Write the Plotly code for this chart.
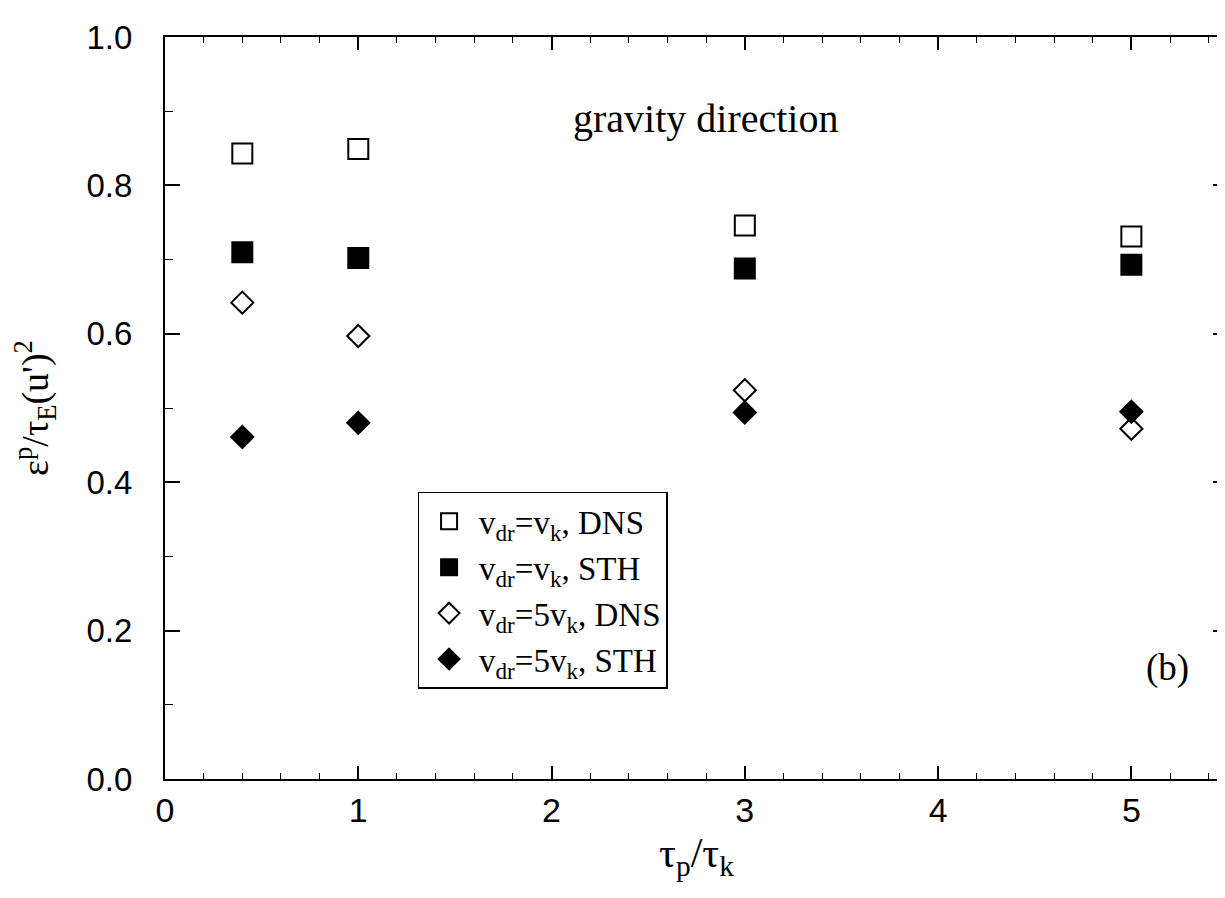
import plotly.graph_objects as go

tau_ratio = [0.4, 1, 3, 5]
dns_vk = [0.843, 0.849, 0.746, 0.731]
sth_vk = [0.710, 0.702, 0.688, 0.693]
dns_5vk = [0.642, 0.597, 0.524, 0.472]
sth_5vk = [0.461, 0.480, 0.494, 0.495]

names = [
    "v<sub>dr</sub>=v<sub>k</sub>, DNS",
    "v<sub>dr</sub>=v<sub>k</sub>, STH",
    "v<sub>dr</sub>=5v<sub>k</sub>, DNS",
    "v<sub>dr</sub>=5v<sub>k</sub>, STH",
]

series = [dns_vk, sth_vk, dns_5vk, sth_5vk]
symbols = ["square-open", "square", "diamond-open", "diamond"]
sizes = [20, 20, 17, 17]

fig = go.Figure()
for vals, nm, sym, sz in zip(series, names, symbols, sizes):
    fig.add_trace(go.Scatter(
        x=tau_ratio, y=vals, mode="markers", name=nm,
        marker=dict(symbol=sym, size=sz, color="black",
                    line=dict(color="black", width=2)),
    ))

serif = "Liberation Serif, Times New Roman, serif"
sans = "Liberation Sans, Arial, sans-serif"

fig.update_layout(
    width=1225, height=898,
    margin=dict(l=157, r=3, t=29, b=127),
    paper_bgcolor="white", plot_bgcolor="white",
    showlegend=True,
    legend=dict(
        x=0.2376, y=0.387, xanchor="left", yanchor="top",
        bordercolor="black", borderwidth=1.5, bgcolor="white",
        font=dict(family=serif, size=33, color="black"),
        itemsizing="trace", itemwidth=50, tracegroupgap=0,
    ),
    annotations=[
        dict(text="gravity direction", x=0.508, y=0.89, xref="paper", yref="paper",
             xanchor="center", yanchor="middle", showarrow=False,
             font=dict(family=serif, size=40, color="black")),
        dict(text="(b)", x=0.965, y=0.15, xref="paper", yref="paper",
             xanchor="right", yanchor="middle", showarrow=False,
             font=dict(family=serif, size=37, color="black")),
    ],
)

fig.update_xaxes(
    range=[0, 5.5], tickvals=[0, 1, 2, 3, 4, 5], ticktext=["0", "1", "2", "3", "4", "5"],
    ticks="inside", ticklen=13, tickwidth=1.5, tickcolor="black",
    minor=dict(dtick=0.2, tick0=0, ticks="inside", ticklen=6, tickwidth=1.2, tickcolor="black"),
    showline=True, linecolor="black", linewidth=2, mirror="ticks",
    showgrid=False, zeroline=False,
    tickfont=dict(family=sans, size=34, color="black"),
    title=dict(text="τ<sub>p</sub>/τ<sub>k</sub>", font=dict(family=serif, size=42, color="black"), standoff=10),
)
fig.update_yaxes(
    range=[0, 1], tickvals=[0, 0.2, 0.4, 0.6, 0.8, 1.0],
    ticktext=["0.0", "0.2", "0.4", "0.6", "0.8", "1.0"],
    ticks="inside", ticklen=15, tickwidth=1.5, tickcolor="black",
    minor=dict(dtick=0.1, tick0=0, ticks="inside", ticklen=8, tickwidth=1.2, tickcolor="black"),
    showline=True, linecolor="black", linewidth=2, mirror="ticks",
    showgrid=False, zeroline=False,
    ticklabelstandoff=24,
    tickfont=dict(family=sans, size=33, color="black"),
    title=dict(text="ε<sup>p</sup>/τ<sub>E</sub>(u')<sup>2</sup>", font=dict(family=serif, size=38, color="black"), standoff=30),
)

fig.write_html("out.html")
